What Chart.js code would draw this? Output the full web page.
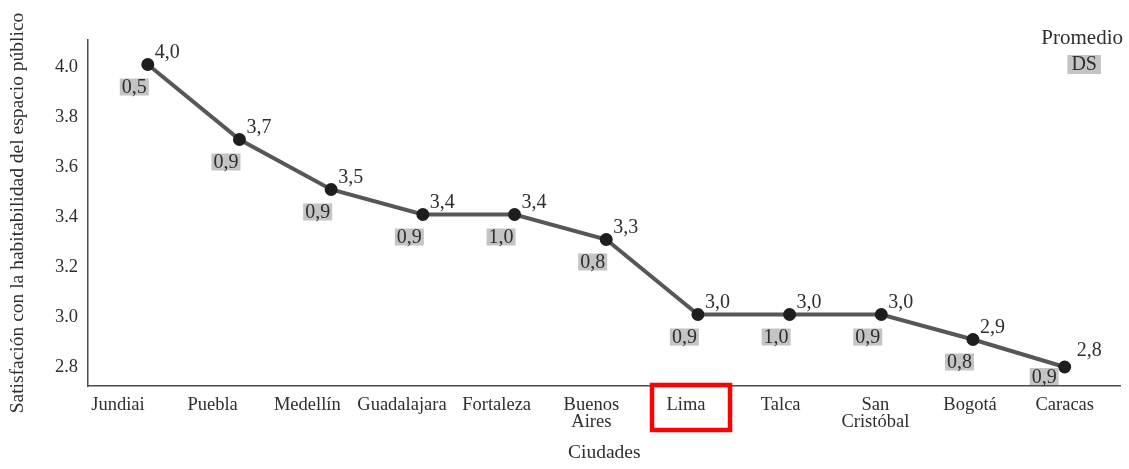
<!DOCTYPE html>
<html>
<head>
<meta charset="utf-8">
<script src="https://cdn.jsdelivr.net/npm/chart.js@4.4.0/dist/chart.umd.min.js"></script>
<style>
  html, body { margin: 0; padding: 0; background: #fff; }
  #wrap { width: 1129px; height: 469px; position: relative; }
</style>
</head>
<body>
<div id="wrap"><canvas id="chart"></canvas></div>
<script>
// Satisfacción con la habitabilidad del espacio público, por ciudad
const cities = ['Jundiai', 'Puebla', 'Medellín', 'Guadalajara', 'Fortaleza', ['Buenos', 'Aires'],
  'Lima', 'Talca', ['San', 'Cristóbal'], 'Bogotá', 'Caracas'];
const promedio = [4.01, 3.71, 3.51, 3.41, 3.41, 3.31, 3.01, 3.01, 3.01, 2.91, 2.80];
const ds = [0.5, 0.9, 0.9, 0.9, 1.0, 0.8, 0.9, 1.0, 0.9, 0.8, 0.9];
const yTicks = [2.8, 3.0, 3.2, 3.4, 3.6, 3.8, 4.0];
const highlightCity = 6; // Lima

const FONT = "'Liberation Serif', 'DejaVu Serif', serif";
const TEXT = '#2e2e2e';
const BOX = '#c4c4c4';

const fmt = v => v.toFixed(1).replace('.', ',');

// value labels, DS boxes, legend and the red box round Lima
const annotate = {
  id: 'annotate',
  afterDatasetsDraw(chart) {
    const ctx = chart.ctx;
    const area = chart.chartArea;
    const meta = chart.getDatasetMeta(0);
    ctx.save();
    ctx.font = '20px ' + FONT;
    ctx.textBaseline = 'middle';
    meta.data.forEach((pt, i) => {
      const x = pt.x, y = pt.y;
      const dsTxt = fmt(ds[i]);
      const tw = ctx.measureText(dsTxt).width;
      const bw = tw + 4, bh = 17;
      let right = x + 1, top = y + 14, vx = x + 7, vy = y - 12;
      if (top + bh > area.bottom - 2) {
        // no room under the point: put the box to the left
        top = y + 1; right = x - 6; vx = x + 12; vy = y - 16;
      }
      ctx.fillStyle = BOX;
      ctx.fillRect(right - bw, top, bw, bh);
      ctx.fillStyle = TEXT;
      ctx.textAlign = 'center';
      ctx.fillText(dsTxt, right - bw / 2, top + bh / 2 + 1);
      ctx.textAlign = 'left';
      ctx.fillText(fmt(promedio[i]), vx, vy);
    });

    // legend
    ctx.font = '21px ' + FONT;
    ctx.textAlign = 'right';
    ctx.fillStyle = TEXT;
    const lx = chart.width - 6;
    ctx.fillText('Promedio', lx, 38);
    const pw = ctx.measureText('Promedio').width;
    const cx = lx - pw / 2 + 2;
    ctx.font = '20px ' + FONT;
    const dw = ctx.measureText('DS').width + 8;
    ctx.fillStyle = BOX;
    ctx.fillRect(cx - dw / 2, 55, dw, 19);
    ctx.fillStyle = TEXT;
    ctx.textAlign = 'center';
    ctx.fillText('DS', cx, 65);

    // red box round the highlighted city
    const hx = chart.scales.x.getPixelForValue(highlightCity);
    ctx.strokeStyle = '#ff0000';
    ctx.lineWidth = 4.5;
    ctx.strokeRect(hx - 34, 385, 78, 45);
    ctx.restore();
  }
};

new Chart(document.getElementById('chart'), {
  type: 'line',
  data: {
    datasets: [{
      data: promedio.map((v, i) => ({ x: i, y: v })),
      xAxisID: 'xp',
      borderColor: '#575757',
      borderWidth: 4,
      pointBackgroundColor: '#1e1e1e',
      pointBorderColor: '#1e1e1e',
      pointRadius: 4.5,
      tension: 0,
      fill: false
    }]
  },
  options: {
    responsive: true,
    maintainAspectRatio: false,
    animation: false,
    layout: { padding: { top: 40, right: 5, left: 0, bottom: 0 } },
    plugins: { legend: { display: false }, tooltip: { enabled: false } },
    scales: {
      x: {
        type: 'linear',
        min: -0.316,
        max: 10.589,
        afterBuildTicks: s => { s.ticks = cities.map((c, i) => ({ value: i })); },
        afterFit: s => { s.height = 83; },
        grid: { display: false, drawTicks: false },
        border: { display: true, color: '#4a4a4a', width: 1.5 },
        ticks: {
          autoSkip: false, maxRotation: 0, padding: 10,
          color: TEXT,
          font: { family: FONT, size: 18.5, lineHeight: 0.95 },
          callback: (v, i) => cities[i]
        },
        title: {
          display: true, text: 'Ciudades', color: TEXT,
          font: { family: FONT, size: 19.5 },
          padding: { top: 0, bottom: 4 }
        }
      },
      xp: {
        type: 'linear',
        display: false,
        min: -0.652,
        max: 10.609
      },
      y: {
        min: 2.724,
        max: 4.108,
        afterBuildTicks: s => { s.ticks = yTicks.map(v => ({ value: v })); },
        afterFit: s => { s.width = 88; },
        grid: { display: false, drawTicks: false },
        border: { display: true, color: '#4a4a4a', width: 1.5 },
        ticks: {
          padding: 10, color: TEXT,
          font: { family: FONT, size: 18.5 },
          callback: v => v.toFixed(1)
        },
        title: {
          display: true, text: 'Satisfación con la habitabilidad del espacio público',
          color: TEXT,
          font: { family: FONT, size: 19.5 },
          padding: { top: 6, bottom: 0 }
        }
      }
    }
  },
  plugins: [annotate]
});
</script>
</body>
</html>
